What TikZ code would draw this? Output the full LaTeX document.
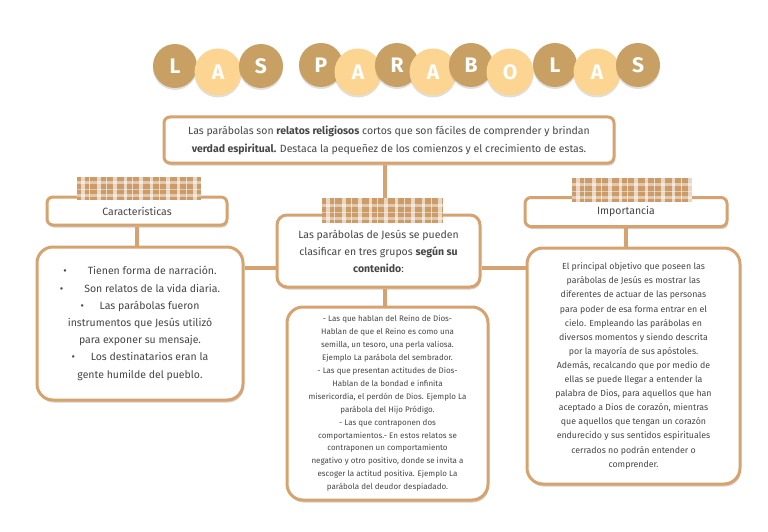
\documentclass[tikz,border=0pt]{standalone}
\usepackage{fontspec}
\setmainfont{Fira Sans}
\usetikzlibrary{shadows}
\definecolor{kraft}{RGB}{214,163,112}
\definecolor{coindark}{RGB}{201,160,100}
\definecolor{coinlight}{RGB}{253,213,146}
\definecolor{ink}{RGB}{70,70,70}

\begin{document}
\begin{tikzpicture}[x=1pt, y=-1pt,
  coin/.style={circle, fill=#1, inner sep=0pt, text=white,
               font=\bfseries\fontsize{21}{21}\selectfont,
               drop shadow={shadow xshift=0pt, shadow yshift=-2pt, opacity=.25}},
  card/.style={rectangle, draw=kraft, line width=3pt, fill=white, align=center,
               rounded corners=16pt, text=ink,
               drop shadow={shadow xshift=1pt, shadow yshift=-2.5pt, fill=kraft!60!black, opacity=.3}},
  hdr/.style={card, rounded corners=6pt, font=\fontsize{10.5}{12}\selectfont},
  tape/.style={rectangle, fill=kraft!95!black, inner sep=0pt, path picture={
      \foreach \a/\b in {4/8, 12/13, 20/24, 29/30, 36/40, 47/50, 55/56, 62/66, 73/76, 82/83, 89/93, 100/103, 109/110, 116/120}
        \fill[white, opacity=.6] ([xshift=\a pt]path picture bounding box.south west)
          rectangle ([xshift=\b pt]path picture bounding box.north west);
      \foreach \a/\b in {3/6, 10/11, 16/19}
        \fill[white, opacity=.45] ([yshift=\a pt]path picture bounding box.south west)
          rectangle ([yshift=\b pt]path picture bounding box.south east);
    }},
  link/.style={draw=kraft, line width=3.5pt}
]
  \useasboundingbox (0,0) rectangle (768,532);

  % Titulo
  \foreach \x/\y/\c/\s/\l [count=\i] in {175/66/coindark/44/L, 218/72/coinlight/47/A, 261/66/coindark/44/S,
      321/65/coindark/44/P, 358/72/coinlight/47/A, 397/65/coindark/44/R, 433/72/coinlight/47/A,
      471/65/coindark/44/B, 510/72/coinlight/47/O, 555/65/coindark/44/L, 597/72/coinlight/47/A, 638/65/coindark/44/S}
    \node[coin=\c, minimum size=\s pt] (t\i) at (\x,\y) {\l};

  % Cajas
  \node[card, rounded corners=6pt, minimum width=450pt, minimum height=46pt,
        font=\fontsize{10.5}{18}\selectfont] (top) at (389,140)
    {Las parábolas son \textbf{relatos religiosos} cortos que son fáciles de comprender y brindan\\
     \textbf{verdad espiritual.} Destaca la pequeñez de los comienzos y el crecimiento de estas.};

  \node[hdr, minimum width=180pt, minimum height=28pt] (hdrL) at (137,211) {\raisebox{-3pt}{Características}};
  \node[hdr, minimum width=202pt, minimum height=29pt] (hdrR) at (626,212) {\raisebox{-3pt}{Importancia}};

  \node[card, rounded corners=10pt, minimum width=203pt, minimum height=72pt,
        font=\fontsize{10.5}{17}\selectfont] (mid) at (378.5,251)
    {Las parábolas de Jesús se pueden\\ clasificar en tres grupos \textbf{según su}\\ \textbf{contenido}:};

  \node[card, minimum width=206pt, minimum height=153pt,
        font=\fontsize{10.5}{17.2}\selectfont] (lcard) at (140,323.5)
    {\textbullet\hspace{2em}Tienen forma de narración.\\
     \textbullet\hspace{2em}Son relatos de la vida diaria.\\
     \textbullet\hspace{1.5em}Las parábolas fueron\\
     instrumentos que Jesús utilizó\\
     para exponer su mensaje.\\
     \textbullet\hspace{1.5em}Los destinatarios eran la\\
     gente humilde del pueblo.};

  \node[card, minimum width=201pt, minimum height=193pt,
        font=\fontsize{8}{12.9}\selectfont] (mcard) at (387.5,403.5)
    {- Las que hablan del Reino de Dios-\\
     Hablan de que el Reino es como una\\
     semilla, un tesoro, una perla valiosa.\\
     Ejemplo La parábola del sembrador.\\
     - Las que presentan actitudes de Dios-\\
     Hablan de la bondad e infinita\\
     misericordia, el perdón de Dios. Ejemplo La\\
     parábola del Hijo Pródigo.\\
     - Las que contraponen dos\\
     comportamientos.- En estos relatos se\\
     contraponen un comportamiento\\
     negativo y otro positivo, donde se invita a\\
     escoger la actitud positiva. Ejemplo La\\
     parábola del deudor despiadado.};

  \node[card, minimum width=213pt, minimum height=236pt,
        font=\fontsize{8.8}{14.1}\selectfont] (rcard) at (633.5,366)
    {El principal objetivo que poseen las\\
     parábolas de Jesús es mostrar las\\
     diferentes de actuar de las personas\\
     para poder de esa forma entrar en el\\
     cielo. Empleando las parábolas en\\
     diversos momentos y siendo descrita\\
     por la mayoría de sus apóstoles.\\
     Además, recalcando que por medio de\\
     ellas se puede llegar a entender la\\
     palabra de Dios, para aquellos que han\\
     aceptado a Dios de corazón, mientras\\
     que aquellos que tengan un corazón\\
     endurecido y sus sentidos espirituales\\
     cerrados no podrán entender o\\
     comprender.};

  % Conexiones
  \coordinate (spine) at (385,0);
  \draw[link] (top.south -| spine) -- (mid.north -| spine);
  \draw[link] (mid.south -| spine) -- (mcard.north -| spine);
  \draw[link] ([yshift=-17pt]mid.west) -- ([yshift=-17pt]mid.west -| lcard.east);
  \draw[link] ([yshift=-17pt]mid.east) -- ([yshift=-17pt]mid.east -| rcard.west);
  \draw[link] (hdrL.south) -- (hdrL.south |- lcard.north);
  \draw[link] (hdrR.south) -- (hdrR.south |- rcard.north);

  % Cintas
  \node[tape, minimum width=124pt, minimum height=23pt] (tapeL) at (139,188.5) {};
  \node[tape, minimum width=121pt, minimum height=25pt] (tapeM) at (382.5,210) {};
  \node[tape, minimum width=120pt, minimum height=24pt] (tapeR) at (632,190) {};
\end{tikzpicture}
\end{document}
